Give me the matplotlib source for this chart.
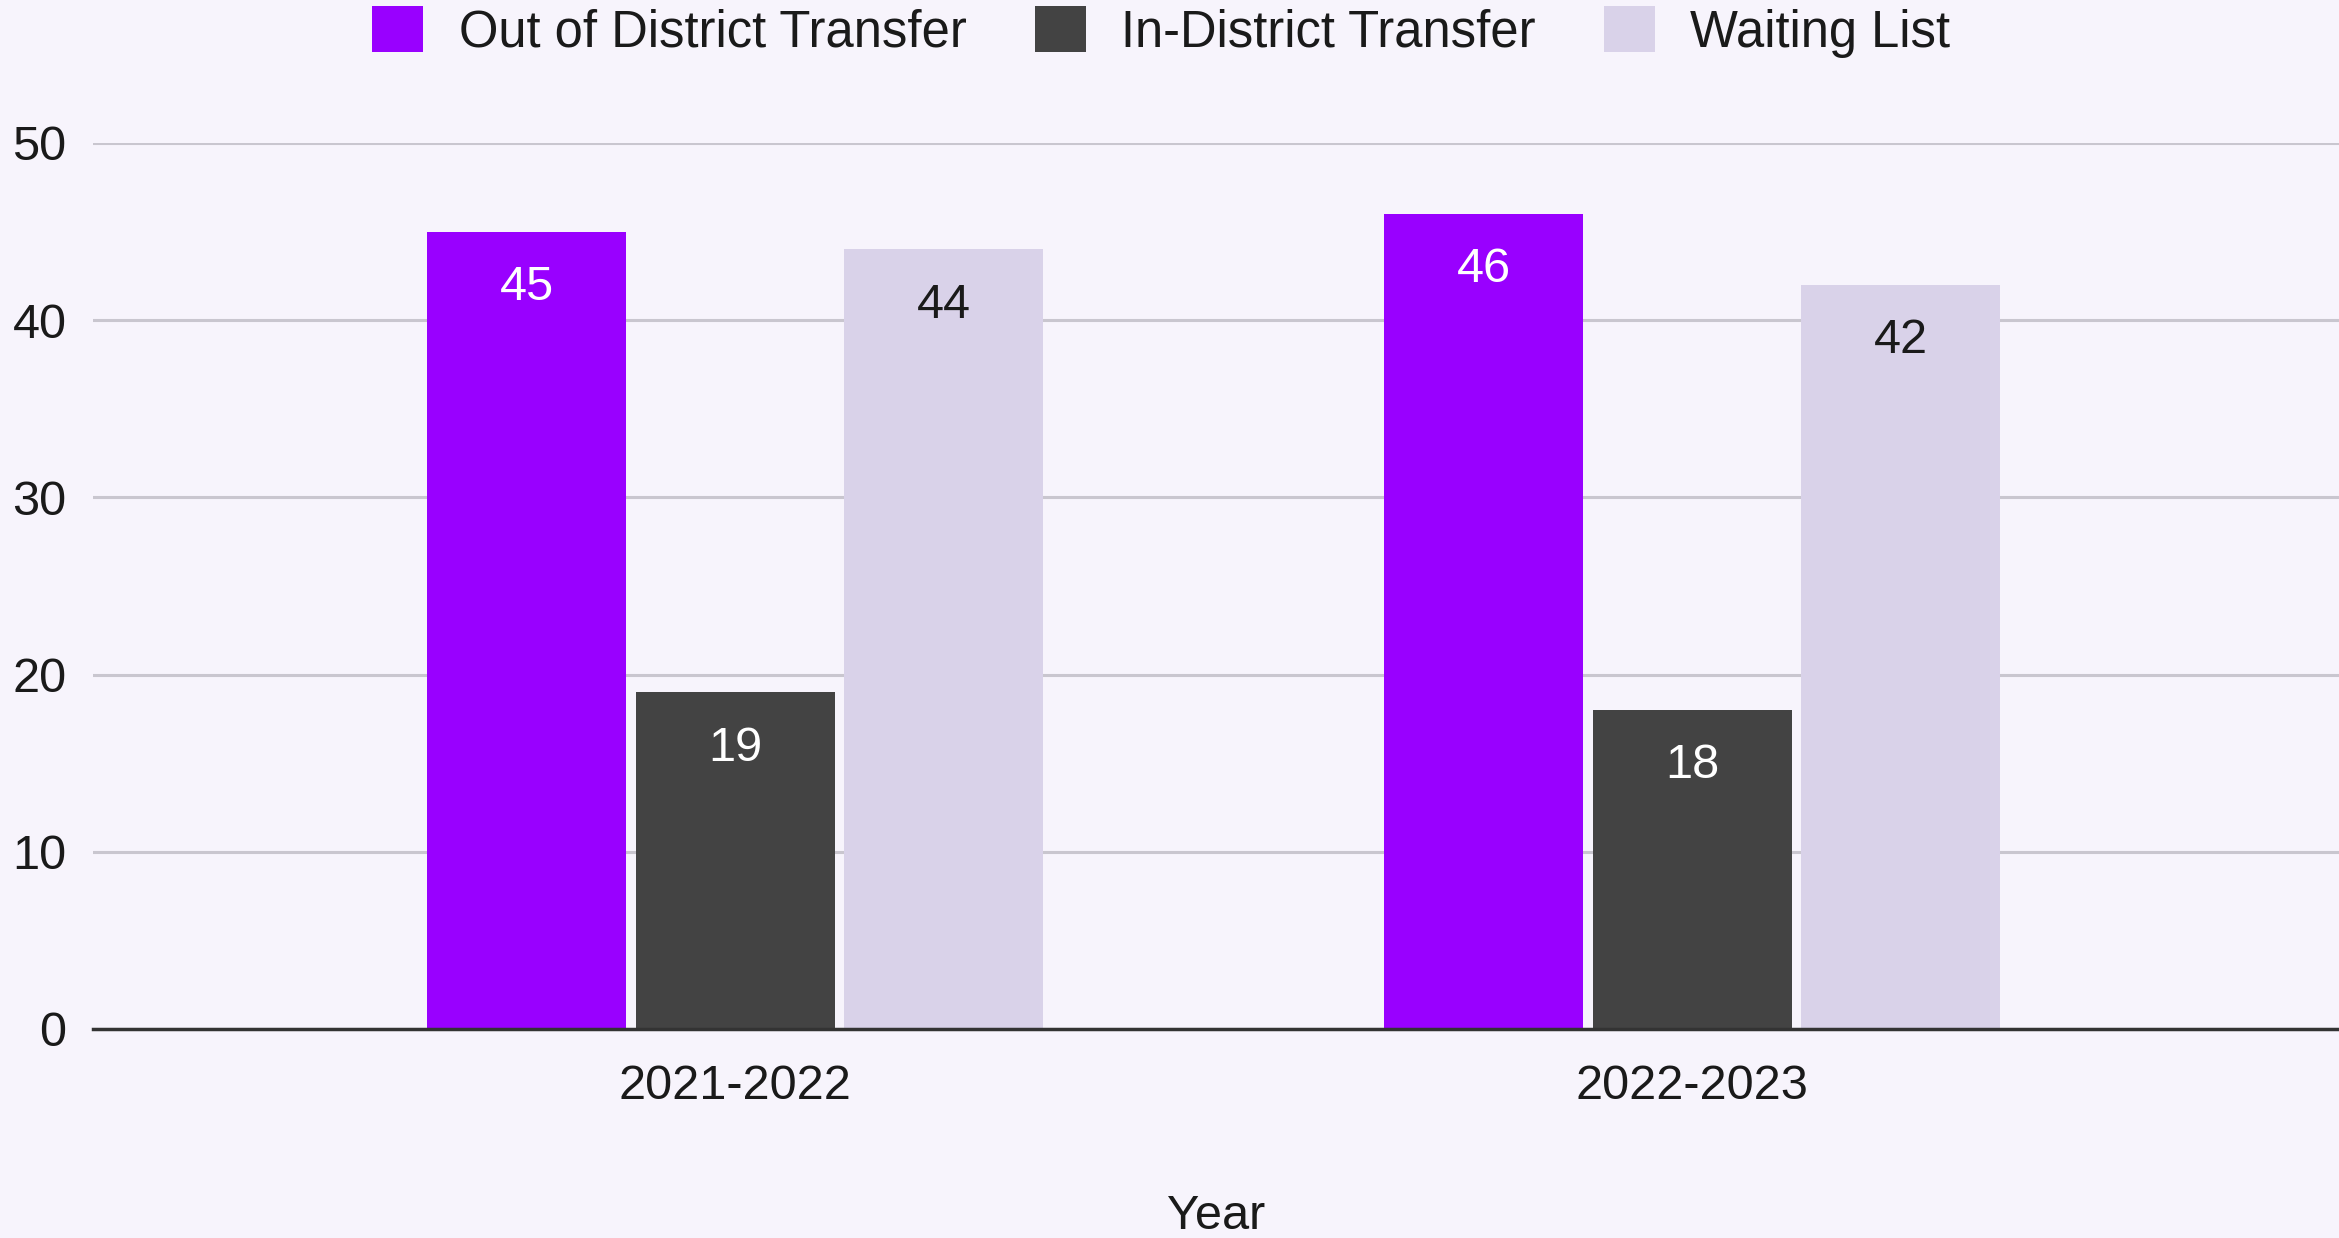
import numpy as np
import matplotlib.pyplot as plt
from matplotlib.patches import Patch

plt.rcParams['font.family'] = ['Liberation Sans', 'DejaVu Sans']

years = ['2021-2022', '2022-2023']
series = ['Out of District Transfer', 'In-District Transfer', 'Waiting List']
out_district = [45, 46]
in_district = [19, 18]
waiting = [44, 42]
colors = ['#9900ff', '#434343', '#d9d2e9']
label_colors = ['#ffffff', '#ffffff', '#1a1a1a']
bg = '#f7f4fc'

W, H = 2339, 1238
fig = plt.figure(figsize=(W / 100, H / 100), dpi=100, facecolor=bg)
ax = fig.add_axes([93 / W, 209 / H, 1 - 93 / W, (1029 - 143) / H], facecolor=bg)

x = np.arange(len(years))
pitch = 0.218
width = 0.208
for i, vals in enumerate([out_district, in_district, waiting]):
    pos = x + (i - 1) * pitch
    ax.bar(pos, vals, width=width, color=colors[i], zorder=3)
    for p, v in zip(pos, vals):
        ax.text(p, v - 3.15, str(v), ha='center', va='center',
                fontsize=35, color=label_colors[i], zorder=4)

ax.set_ylim(0, 50)
ax.set_xlim(-0.671, 1.676)
ax.set_yticks(np.arange(0, 51, 10))
ax.set_xticks(x)
ax.set_xticklabels(years)
ax.tick_params(axis='both', length=0, labelsize=35, colors='#1a1a1a')
ax.tick_params(axis='y', pad=19)
ax.tick_params(axis='x', pad=25)
ax.grid(axis='y', color='#c9c6cf', linewidth=2.2, zorder=0)
for s in ['top', 'right', 'left']:
    ax.spines[s].set_visible(False)
ax.spines['bottom'].set_color('#333333')
ax.spines['bottom'].set_linewidth(2.5)
ax.spines['bottom'].set_zorder(5)
ax.set_xlabel('Year', fontsize=35, color='#1a1a1a')
ax.xaxis.label.set_va('baseline')
ax.xaxis.set_label_coords(0.5, (1029 - 1229) / 886)

handles = [Patch(facecolor=c, edgecolor='none') for c in colors]
fig.legend(handles, series, loc='center', bbox_to_anchor=(0.4965, 1 - 32 / H),
           ncol=3, frameon=False, fontsize=36.5, handlelength=1.0, handleheight=1.0,
           handletextpad=0.7, columnspacing=1.35, labelcolor='#1a1a1a')

fig.savefig('out.png', dpi=100, facecolor=bg)
